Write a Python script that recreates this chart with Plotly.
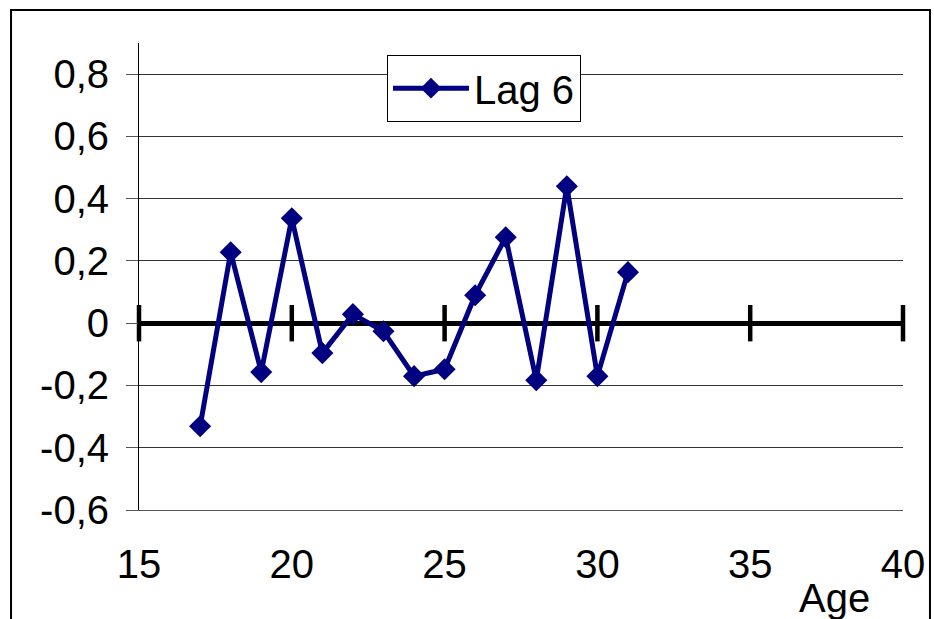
import plotly.graph_objects as go

ages = [17, 18, 19, 20, 21, 22, 23, 24, 25, 26, 27, 28, 29, 30, 31]
lag6 = [-0.331, 0.228, -0.157, 0.337, -0.096, 0.029, -0.026, -0.170, -0.148,
        0.090, 0.276, -0.183, 0.440, -0.170, 0.164]
series_name = "Lag 6"

x_ticks = [15, 20, 25, 30, 35, 40]
x_ticktext = ["15", "20", "25", "30", "35", "40"]
y_ticks = [-0.6, -0.4, -0.2, 0, 0.2, 0.4, 0.6, 0.8]
y_ticktext = ["-0,6", "-0,4", "-0,2", "0", "0,2", "0,4", "0,6", "0,8"]
x_title = "Age"

FONT = "Liberation Sans, Arial, sans-serif"
NAVY = "#000080"
FS = 40

fig = go.Figure()

# tick marks on the zero line
fig.add_trace(go.Scatter(
    x=x_ticks, y=[0] * len(x_ticks), mode="markers",
    marker=dict(symbol="line-ns", size=26, line=dict(width=4.5, color="black")),
    showlegend=False, hoverinfo="skip", cliponaxis=False))

fig.add_trace(go.Scatter(
    x=ages, y=lag6, mode="lines+markers", name=series_name,
    line=dict(color=NAVY, width=5),
    marker=dict(symbol="diamond", size=17, color=NAVY),
    cliponaxis=False))

fig.update_layout(
    width=934, height=619,
    margin=dict(l=139, r=31, t=43, b=109, autoexpand=False),
    paper_bgcolor="white", plot_bgcolor="white",
    font=dict(family=FONT, size=FS, color="black"),
    xaxis=dict(range=[15, 40], tickvals=x_ticks, ticktext=x_ticktext,
               showgrid=False, zeroline=False, showline=True,
               linecolor="#555555", linewidth=1, ticks="",
               ticklabelstandoff=19, tickfont=dict(size=FS),
               automargin=False),
    yaxis=dict(range=[-0.6, 0.9], tickvals=y_ticks, ticktext=y_ticktext,
               showgrid=True, gridcolor="#333333", gridwidth=1,
               zeroline=True, zerolinecolor="black", zerolinewidth=5,
               showline=True, linecolor="black", linewidth=1,
               ticks="outside", ticklen=12, tickcolor="#555555",
               ticklabelstandoff=9, tickfont=dict(size=FS),
               automargin=False),
    legend=dict(x=0.3246, y=0.975, xanchor="left", yanchor="top",
                bgcolor="white", bordercolor="black", borderwidth=1,
                font=dict(size=FS), itemwidth=76),
    showlegend=True,
)

fig.add_annotation(text=x_title, xref="paper", yref="paper",
                   x=0.91, y=-0.188, xanchor="center", yanchor="middle",
                   showarrow=False, font=dict(size=FS))

# chart frame
fig.add_shape(type="rect", xref="paper", yref="paper",
              x0=-0.1675, x1=1.0353, y0=-0.3, y1=1.0707,
              line=dict(color="black", width=2), layer="below")

fig.write_html("out.html")
